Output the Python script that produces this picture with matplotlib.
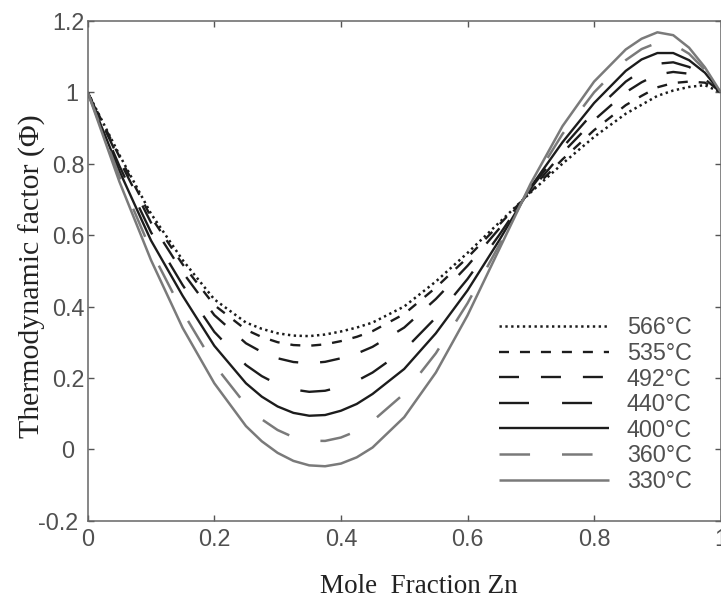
import matplotlib
matplotlib.use('Agg')
import matplotlib.pyplot as plt
from matplotlib.transforms import ScaledTranslation

plt.rcParams['lines.scale_dashes'] = False

# ---- data ----
x_zn = [0, 0.05, 0.1, 0.15, 0.2, 0.25, 0.275, 0.3, 0.325, 0.35, 0.375, 0.4, 0.425, 0.45,
        0.5, 0.55, 0.6, 0.65, 0.7, 0.75, 0.8, 0.85, 0.875, 0.9, 0.925, 0.95, 0.975, 1.0]

phi_566 = [1.0, 0.825, 0.66, 0.53, 0.42, 0.355, 0.3375, 0.325, 0.3185, 0.317, 0.3215, 0.33, 0.341,
           0.355, 0.40, 0.47, 0.55, 0.635, 0.72, 0.80, 0.875, 0.94, 0.965, 0.99, 1.005, 1.015,
           1.02, 1.0]
phi_535 = [1.0, 0.82, 0.651, 0.518, 0.404, 0.335, 0.3145, 0.30, 0.292, 0.29, 0.294, 0.303, 0.315,
           0.331, 0.379, 0.453, 0.537, 0.629, 0.722, 0.812, 0.894, 0.964, 0.99, 1.014, 1.026,
           1.03, 1.027, 1.0]
phi_492 = [1.0, 0.81, 0.635, 0.496, 0.376, 0.297, 0.2725, 0.255, 0.2445, 0.241, 0.245, 0.255,
           0.268, 0.287, 0.341, 0.421, 0.514, 0.618, 0.725, 0.83, 0.922, 1.0, 1.028, 1.05, 1.057,
           1.052, 1.037, 1.0]
phi_440 = [1.0, 0.794, 0.608, 0.46, 0.329, 0.236, 0.205, 0.182, 0.1675, 0.161, 0.164, 0.175,
           0.1915, 0.215, 0.278, 0.369, 0.477, 0.60, 0.731, 0.845, 0.946, 1.03, 1.06, 1.08,
           1.084, 1.071, 1.046, 1.0]
phi_400 = [1.0, 0.78, 0.585, 0.43, 0.29, 0.185, 0.1475, 0.12, 0.102, 0.094, 0.096, 0.108, 0.127,
           0.155, 0.225, 0.325, 0.445, 0.585, 0.735, 0.86, 0.97, 1.06, 1.092, 1.11, 1.11, 1.09,
           1.055, 1.0]
phi_360 = [1.0, 0.765, 0.557, 0.385, 0.237, 0.124, 0.084, 0.054, 0.034, 0.024, 0.0235, 0.033,
           0.051, 0.079, 0.156, 0.269, 0.409, 0.572, 0.74, 0.883, 1.0, 1.09, 1.121, 1.139, 1.135,
           1.108, 1.063, 1.0]
phi_330 = [1.0, 0.75, 0.53, 0.34, 0.185, 0.065, 0.0225, -0.01, -0.0325, -0.045, -0.0475, -0.04,
           -0.0225, 0.005, 0.09, 0.215, 0.375, 0.56, 0.745, 0.905, 1.03, 1.12, 1.15, 1.168, 1.16,
           1.125, 1.07, 1.0]

temps = ['566', '535', '492', '440', '400', '360', '330']
series = [phi_566, phi_535, phi_492, phi_440, phi_400, phi_360, phi_330]

xticks = [0, 0.2, 0.4, 0.6, 0.8, 1.0]
xticklabels = ['0', '0.2', '0.4', '0.6', '0.8', '1']
yticks = [-0.2, 0, 0.2, 0.4, 0.6, 0.8, 1.0, 1.2]
yticklabels = ['-0.2', '0', '0.2', '0.4', '0.6', '0.8', '1', '1.2']

# ---- styles ----
BLACK = '#1c1c1c'
GREY = '#7a7a7a'
TXT = '#505050'
styles = [
    dict(color=BLACK, lw=1.8, dashes=(1.7, 2.5)),
    dict(color=BLACK, lw=1.7, dashes=(7.2, 7.9)),
    dict(color=BLACK, lw=1.7, dashes=(14.4, 15.8)),
    dict(color=BLACK, lw=1.7, dashes=(21.6, 23.8)),
    dict(color=BLACK, lw=1.7, ls='-'),
    dict(color=GREY, lw=1.8, dashes=(22.0, 23.0)),
    dict(color=GREY, lw=1.8, ls='-'),
]

fig = plt.figure(figsize=(7.21, 6.0), dpi=100)
ax = fig.add_axes([87.7 / 721, 79.3 / 600, 633.0 / 721, 499.8 / 600])

handles = []
for t, vals, st in zip(temps, series, styles):
    ln, = ax.plot(x_zn, vals, label=f'{t}\u00b0C', dash_capstyle='butt',
                  solid_capstyle='butt', solid_joinstyle='round', **st)
    handles.append(ln)

ax.set_xlim(0, 1)
ax.set_ylim(-0.2, 1.2)
ax.set_xticks(xticks)
ax.set_xticklabels(xticklabels)
ax.set_yticks(yticks)
ax.set_yticklabels(yticklabels)

sans = ['Liberation Sans', 'DejaVu Sans']
serif = ['Liberation Serif', 'DejaVu Serif']

ax.tick_params(axis='both', direction='in', length=4, width=1.0, color='#555555',
               top=True, right=True, labelsize=16.8, labelcolor=TXT)
ax.tick_params(axis='x', pad=5.5)
ax.tick_params(axis='y', pad=14.2)
for lab in ax.get_xticklabels():
    lab.set_fontfamily(sans)
# y tick labels are centred on a column left of the axis, as in the reference
y_shift_px = {'-0.2': -10, '1': 4}
for lab in ax.get_yticklabels():
    lab.set_fontfamily(sans)
    lab.set_horizontalalignment('center')
    dx = y_shift_px.get(lab.get_text(), 0)
    if dx:
        lab.set_transform(lab.get_transform() +
                          ScaledTranslation(dx / 100, 0, fig.dpi_scale_trans))
for sp in ax.spines.values():
    sp.set_color('#666666')
    sp.set_linewidth(1.1)

leg = ax.legend(handles=handles, loc='center left',
                bbox_to_anchor=(499.3 / 721, 1 - 404.6 / 600),
                bbox_transform=fig.transFigure, frameon=False,
                handlelength=4.72, handletextpad=0.75, labelspacing=0.11,
                borderpad=0.0, borderaxespad=0.0,
                prop={'family': sans, 'size': 16.8})
for txt in leg.get_texts():
    txt.set_color(TXT)

fig.text(39.3 / 721, 1 - 276 / 600, 'Thermodynamic factor (\u03a6)', rotation=90,
         rotation_mode='anchor', ha='center', va='baseline',
         family=serif, fontsize=21.5, color='#222222')
fig.text(419 / 721, 7 / 600, 'Mole  Fraction Zn', ha='center', va='baseline',
         family=serif, fontsize=19.5, color='#222222')

fig.savefig('out.png', dpi=100)
